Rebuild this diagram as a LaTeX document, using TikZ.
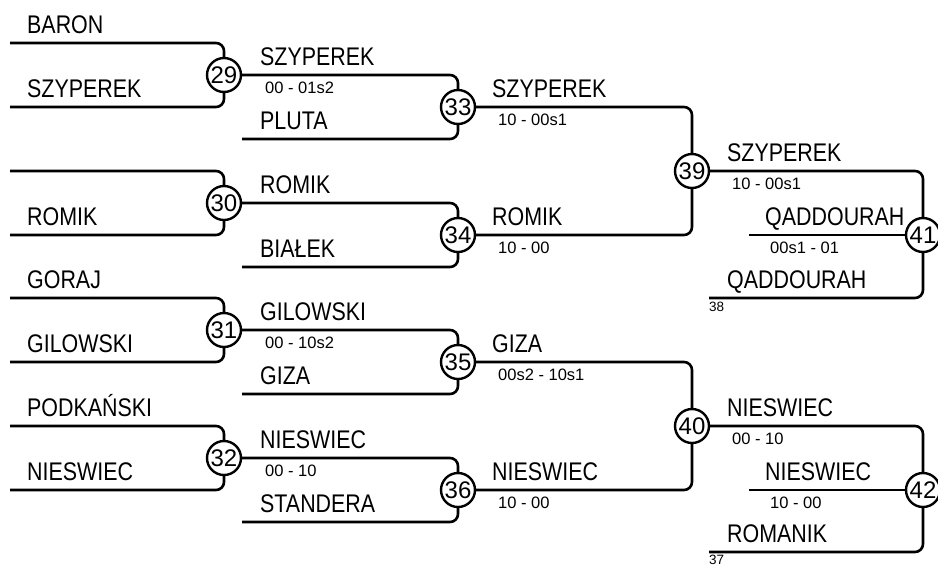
\documentclass[tikz,border=0pt]{standalone}
\usepackage{fontspec}
\setmainfont{Liberation Sans}
\newfontfamily\condfont{Liberation Sans}[FakeStretch=0.84]
\usetikzlibrary{positioning}

\begin{document}
\begin{tikzpicture}[x=1pt, y=-1pt,
    bline/.style={line width=2.6pt, rounded corners=8pt},
    match/.style={circle, draw, line width=2.4pt, fill=white,
        minimum size=34pt, inner sep=0pt, font=\fontsize{24}{24}\selectfont},
    player/.style={anchor=base west, inner sep=0pt,
        font=\condfont\fontsize{25.5}{25.5}\selectfont},
    score/.style={anchor=base west, inner sep=0pt,
        font=\fontsize{16.5}{16.5}\selectfont},
    seed/.style={anchor=base west, inner sep=0pt,
        font=\fontsize{13.5}{13.5}\selectfont}
]
\useasboundingbox (0,0) rectangle (938,566);

% match circles
\node[match] (m29) at (224,75) {29};
\node[match] (m30) at (224,203) {30};
\node[match] (m31) at (224,330) {31};
\node[match] (m32) at (224,458) {32};
\node[match] (m33) at (458,107) {33};
\node[match] (m34) at (458,235) {34};
\node[match] (m35) at (458,362) {35};
\node[match] (m36) at (458,490) {36};
\node[match] (m39) at (692,171) {39};
\node[match] (m40) at (692,426) {40};
\node[match] (m41) at (923,235) {41};
\node[match] (m42) at (923,490) {42};

% free line ends
\coordinate (a29) at (10,43);   \coordinate (b29) at (10,107);
\coordinate (a30) at (10,171);  \coordinate (b30) at (10,235);
\coordinate (a31) at (10,298);  \coordinate (b31) at (10,362);
\coordinate (a32) at (10,426);  \coordinate (b32) at (10,490);
\coordinate (b33) at (242,139); \coordinate (b34) at (242,267);
\coordinate (b35) at (242,394); \coordinate (b36) at (242,522);
\coordinate (c41) at (749,235); \coordinate (b41) at (709,298);
\coordinate (c42) at (749,490); \coordinate (b42) at (709,552);

% first round
\draw[bline] (a29) -| (m29.north);  \draw[bline] (b29) -| (m29.south);
\draw[bline] (a30) -| (m30.north);  \draw[bline] (b30) -| (m30.south);
\draw[bline] (a31) -| (m31.north);  \draw[bline] (b31) -| (m31.south);
\draw[bline] (a32) -| (m32.north);  \draw[bline] (b32) -| (m32.south);

% second round
\draw[bline] (m29.east) -| (m33.north);  \draw[bline] (b33) -| (m33.south);
\draw[bline] (m30.east) -| (m34.north);  \draw[bline] (b34) -| (m34.south);
\draw[bline] (m31.east) -| (m35.north);  \draw[bline] (b35) -| (m35.south);
\draw[bline] (m32.east) -| (m36.north);  \draw[bline] (b36) -| (m36.south);

% third round
\draw[bline] (m33.east) -| (m39.north);  \draw[bline] (m34.east) -| (m39.south);
\draw[bline] (m35.east) -| (m40.north);  \draw[bline] (m36.east) -| (m40.south);

% final places
\draw[bline] (m39.east) -| (m41.north);
\draw[bline] (c41) -- (m41.west);
\draw[bline] (b41) -| (m41.south);
\draw[bline] (m40.east) -| (m42.north);
\draw[bline] (c42) -- (m42.west);
\draw[bline] (b42) -| (m42.south);

% names, first round
\node[player] (p1) at (27,33) {BARON};
\node[player] (p2) at (27,97) {SZYPEREK};
\node[player] (p4) at (27,225) {ROMIK};
\node[player] (p5) at (27,288) {GORAJ};
\node[player] (p6) at (27,352) {GILOWSKI};
\node[player] (p7) at (27,416) {PODKAŃSKI};
\node[player] (p8) at (27,480) {NIESWIEC};

% second round
\node[player] (q1) at (260,65) {SZYPEREK};
\node[score]  (s29) at (265,93) {00 - 01s2};
\node[player] (q2) at (260,129) {PLUTA};
\node[player] (q3) at (260,193) {ROMIK};
\node[player] (q4) at (260,257) {BIAŁEK};
\node[player] (q5) at (260,320) {GILOWSKI};
\node[score]  (s31) at (265,348) {00 - 10s2};
\node[player] (q6) at (260,384) {GIZA};
\node[player] (q7) at (260,448) {NIESWIEC};
\node[score]  (s32) at (265,476) {00 - 10};
\node[player] (q8) at (260,512) {STANDERA};

% third round
\node[player] (r1) at (492,97) {SZYPEREK};
\node[score]  (s33) at (498,125) {10 - 00s1};
\node[player] (r2) at (492,225) {ROMIK};
\node[score]  (s34) at (498,253) {10 - 00};
\node[player] (r3) at (492,352) {GIZA};
\node[score]  (s35) at (498,380) {00s2 - 10s1};
\node[player] (r4) at (492,480) {NIESWIEC};
\node[score]  (s36) at (498,508) {10 - 00};

% fourth round
\node[player] (t1) at (727,161) {SZYPEREK};
\node[score]  (s39) at (732,189) {10 - 00s1};
\node[player] (t2) at (765,225) {QADDOURAH};
\node[score]  (s41) at (770,253) {00s1 - 01};
\node[player] (t3) at (727,288) {QADDOURAH};
\node[seed]   (g38) at (709,311) {38};
\node[player] (t4) at (727,416) {NIESWIEC};
\node[score]  (s40) at (732,444) {00 - 10};
\node[player] (t5) at (765,480) {NIESWIEC};
\node[score]  (s42) at (770,508) {10 - 00};
\node[player] (t6) at (727,542) {ROMANIK};
\node[seed]   (g37) at (709,564) {37};
\end{tikzpicture}
\end{document}
